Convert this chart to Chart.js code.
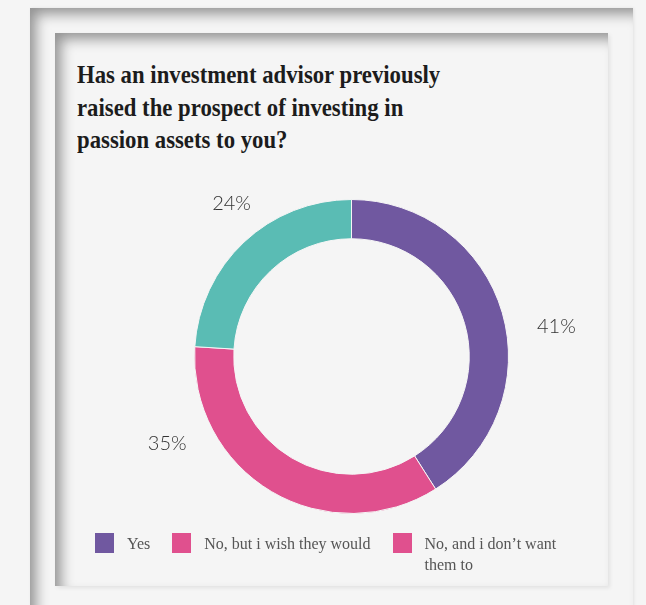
<!DOCTYPE html>
<html lang="en">
<head>
<meta charset="UTF-8">
<title>Passion assets survey</title>
<script src="https://cdn.jsdelivr.net/npm/chart.js"></script>
<style>
    body { margin: 0; width: 646px; height: 605px; overflow: hidden; position: relative; background: #f5f5f5; }
    .frame {
        position: absolute; left: 30px; top: 8px; width: 603px; height: 640px;
        box-shadow: inset 8px 8px 13px -2px rgba(0, 0, 0, 0.4), 1px 0 3px rgba(0, 0, 0, 0.08);
    }
    .card {
        position: absolute; left: 55px; top: 33px; width: 553px; height: 553px; background: #f5f5f5;
        box-shadow: inset 8px 8px 13px -2px rgba(0, 0, 0, 0.4), 2px 2px 4px rgba(0, 0, 0, 0.08);
    }
    .title {
        position: absolute; left: 22px; top: 26px; margin: 0;
        font: bold 25px/32.5px "Liberation Serif", serif; color: #1c1c1c;
        transform-origin: 0 0; transform: scaleX(0.91); white-space: nowrap;
    }
    canvas { position: absolute; left: 0; top: 0; }
    .legend { position: absolute; left: 40px; top: 500px; display: flex; align-items: flex-start; }
    .legend .item { display: flex; align-items: flex-start; margin-right: 22px; }
    .legend .swatch { width: 19px; height: 20px; margin-right: 13px; flex: none; }
    .legend .text { font: 16px/21px "Liberation Serif", serif; color: #555; white-space: nowrap; }
    .legend .item:last-child .text { white-space: normal; width: 150px; }
</style>
</head>
<body>
<div class="frame"></div>
<div class="card">
    <h2 class="title">Has an investment advisor previously<br>raised the prospect of investing in<br>passion assets to you?</h2>
    <canvas id="donut" width="553" height="553"></canvas>
    <div class="legend" id="legend"></div>
</div>
<script>
    const categories = ['Yes', 'No, but i wish they would', 'No, and i don\u2019t want them to'];
    const shares = [41, 35, 24];

    const sliceColors = ['#7058a0', '#e0508e', '#5abcb4'];
    const swatchColors = ['#7058a0', '#e0508e', '#e0508e'];

    // percentage labels outside the ring, nudged off the slice middle
    const sliceLabels = {
        id: 'sliceLabels',
        afterDatasetsDraw(chart, args, opts) {
            const ctx = chart.ctx;
            const arcs = chart.getDatasetMeta(0).data;
            ctx.save();
            ctx.font = opts.font;
            ctx.fillStyle = opts.color;
            ctx.textAlign = 'center';
            ctx.textBaseline = 'middle';
            arcs.forEach((arc, i) => {
                const a = (arc.startAngle + arc.endAngle) / 2 + opts.shift[i] * Math.PI / 180;
                const r = arc.outerRadius + opts.gap[i];
                ctx.fillText(chart.data.datasets[0].data[i] + '%', arc.x + Math.cos(a) * r, arc.y + Math.sin(a) * r);
            });
            ctx.restore();
        }
    };

    const chart = new Chart(document.getElementById('donut'), {
        type: 'doughnut',
        data: {
            labels: categories,
            datasets: [{
                data: shares,
                backgroundColor: sliceColors,
                borderColor: '#f5f5f5',
                borderWidth: 1
            }]
        },
        options: {
            responsive: false,
            animation: false,
            cutout: '75%',
            layout: { padding: { left: 139, right: 99, top: 166, bottom: 72 } },
            plugins: {
                legend: { display: false },
                tooltip: { enabled: false },
                sliceLabels: {
                    font: '300 20px Lato, sans-serif',
                    color: '#333',
                    shift: [8, 34, 5],
                    gap: [50, 47, 37]
                }
            }
        },
        plugins: [sliceLabels]
    });

    // legend row under the chart
    const legendEl = document.getElementById('legend');
    chart.data.labels.forEach((label, i) => {
        const item = document.createElement('div');
        item.className = 'item';
        const sw = document.createElement('span');
        sw.className = 'swatch';
        sw.style.background = swatchColors[i];
        const txt = document.createElement('span');
        txt.className = 'text';
        txt.textContent = label;
        item.appendChild(sw);
        item.appendChild(txt);
        legendEl.appendChild(item);
    });
</script>
</body>
</html>
